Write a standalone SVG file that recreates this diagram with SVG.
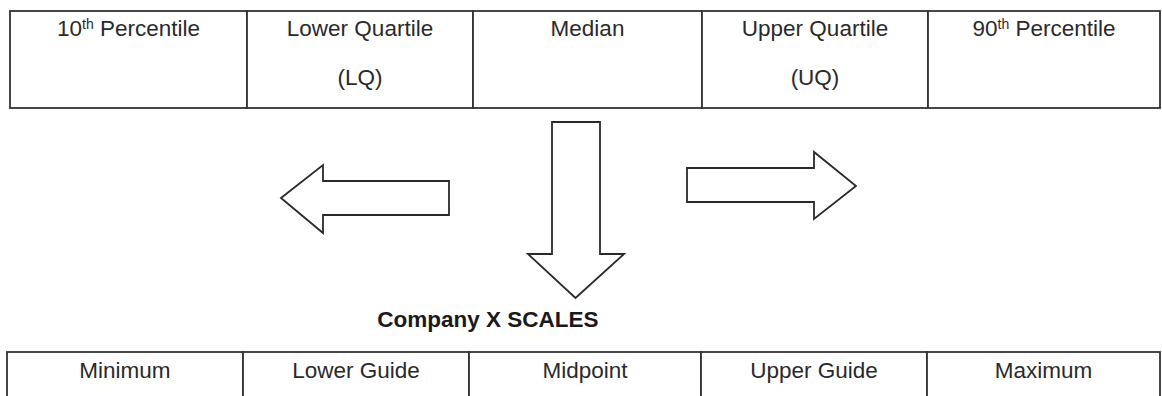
<svg xmlns="http://www.w3.org/2000/svg" width="1162" height="396" viewBox="0 0 1162 396">
<style>
.cell{fill:#fff;stroke:#333;stroke-width:1.8}
.t{font-family:"Liberation Sans",Arial,sans-serif;font-size:22.5px;fill:#2a2a2a;text-anchor:middle}
.sup{font-size:14px}
.b{font-weight:bold;fill:#1a1a1a}
.arr{fill:#fff;stroke:#2a2a2a;stroke-width:1.8;stroke-linejoin:miter}
</style>
<rect width="1162" height="396" fill="#fff"/>
<g id="p10"><rect class="cell" x="10" y="11" width="237" height="97"/><text class="t" x="128.5" y="36">10<tspan class="sup" dy="-7">th</tspan><tspan dy="7"> Percentile</tspan></text></g>
<g id="lq"><rect class="cell" x="247" y="11" width="226" height="97"/><text class="t" x="360" y="36">Lower Quartile</text><text class="t" x="360" y="85">(LQ)</text></g>
<g id="median"><rect class="cell" x="473" y="11" width="229" height="97"/><text class="t" x="587.5" y="36">Median</text></g>
<g id="uq"><rect class="cell" x="702" y="11" width="226" height="97"/><text class="t" x="815" y="36">Upper Quartile</text><text class="t" x="815" y="85">(UQ)</text></g>
<g id="p90"><rect class="cell" x="928" y="11" width="232" height="97"/><text class="t" x="1044" y="36">90<tspan class="sup" dy="-7">th</tspan><tspan dy="7"> Percentile</tspan></text></g>
<g id="connectors">
<polygon class="arr" points="281,198 323,165 323,181 449,181 449,215 323,215 323,233"/>
<polygon class="arr" points="552,122 600,122 600,254 624,254 575.5,298 528,254 552,254"/>
<polygon class="arr" points="687,168 814,168 814,152 856,186 814,219 814,202 687,202"/>
</g>
<g id="title"><text class="t b" x="488" y="327">Company X SCALES</text></g>
<g id="minimum"><rect class="cell" x="7" y="352" width="236" height="60"/><text class="t" x="125" y="378">Minimum</text></g>
<g id="lowerguide"><rect class="cell" x="243" y="352" width="226" height="60"/><text class="t" x="356" y="378">Lower Guide</text></g>
<g id="midpoint"><rect class="cell" x="469" y="352" width="232" height="60"/><text class="t" x="585" y="378">Midpoint</text></g>
<g id="upperguide"><rect class="cell" x="701" y="352" width="226" height="60"/><text class="t" x="814" y="378">Upper Guide</text></g>
<g id="maximum"><rect class="cell" x="927" y="352" width="233" height="60"/><text class="t" x="1043.5" y="378">Maximum</text></g>
</svg>
